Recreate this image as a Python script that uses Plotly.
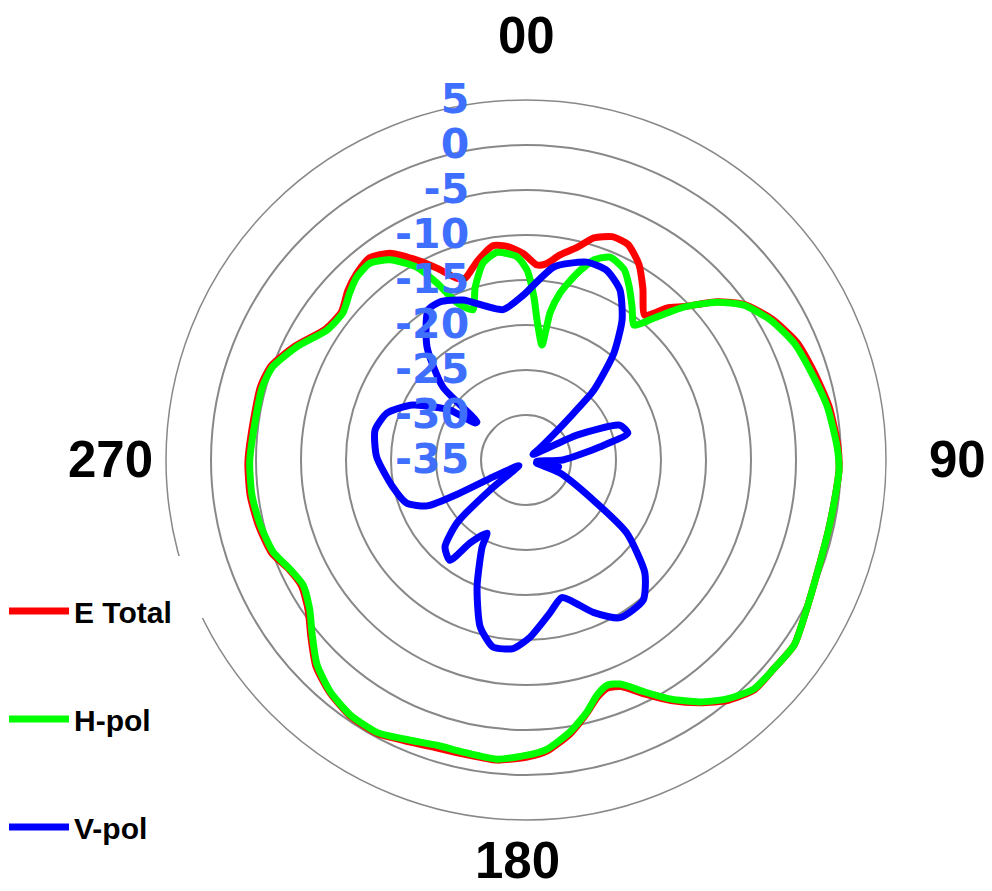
import plotly.graph_objects as go

# ---------------- data (dB vs azimuth, degrees clockwise from top) ----------------
theta_e = [3.2, 5.8, 9.4, 13.5, 17.0, 21.1, 25.3, 30.0, 34.2, 39.4, 42.8, 45.9, 50.4, 54.6,
           60.2, 66.4, 72.4, 80.0, 87.6, 91.8, 96.5, 102.8, 109.1, 117.9, 124.6, 130.1, 135.1,
           139.9, 144.3, 148.9, 153.0, 157.2, 160.2, 163.2, 166.4, 170.8, 175.8, 179.8, 185.5,
           192.2, 197.3, 202.5, 208.7, 214.6, 220.2, 225.6, 230.7, 235.4, 240.7, 245.2, 250.0,
           256.3, 262.7, 269.6, 278.4, 285.5, 290.2, 296.3, 303.2, 308.8, 313.5, 317.9, 322.3,
           326.7, 331.4, 335.1, 339.2, 341.5, 346.1, 351.2, 355.2, 359.4, 363.2]
r_e = [-13.3, -13.1, -11.9, -10.7, -9.2, -8.4, -8.5, -9.9, -11.9, -14.2, -12.0, -10.5, -7.4, -5.2,
       -3.5, -2.2, -1.6, -0.8, -0.3, -0.2, -0.4, -0.5, -0.4, 0.3, 1.2, 1.0, 1.0,
       -0.1, -1.8, -3.8, -5.8, -7.7, -8.1, -7.5, -6.1, -4.2, -2.6, -2.0, -1.5,
       -1.6, -1.5, -1.1, -0.4, -0.5, -1.2, -2.3, -4.1, -5.6, -6.4, -6.0, -4.9,
       -4.4, -4.1, -4.1, -4.4, -4.4, -4.8, -6.4, -8.4, -8.7, -7.7, -7.0, -6.6,
       -7.5, -9.7, -11.5, -13.4, -13.7, -12.3, -10.9, -11.2, -12.1, -13.3]

theta_h = [0.3, 2.8, 4.5, 7.9, 9.3, 11.5, 15.3, 18.8, 22.5, 27.3, 30.8, 34.7, 38.7, 42.0, 45.9,
           50.4, 54.6, 60.2, 66.4, 72.4, 80.0, 87.6, 91.8, 96.5, 102.8, 109.1, 117.9, 124.6,
           130.1, 135.1, 139.9, 144.3, 148.9, 153.0, 157.2, 160.2, 163.2, 166.4, 170.8, 175.8,
           179.8, 185.5, 192.2, 197.3, 202.5, 208.7, 214.6, 220.2, 225.6, 230.7, 235.4, 240.7,
           245.2, 250.0, 256.3, 262.7, 269.6, 278.4, 285.5, 290.2, 296.3, 303.2, 308.8, 313.5,
           317.3, 321.6, 325.8, 330.5, 333.3, 336.3, 340.5, 343.6, 347.7, 352.1, 357.5, 360.3]
r_h = [-13.9, -16.9, -19.4, -22.1, -18.4, -16.1, -13.5, -11.5, -10.6, -11.2, -12.6, -14.3, -15.8,
       -13.8, -10.6, -7.5, -5.3, -3.7, -2.5, -1.9, -1.0, -0.4, -0.2, -0.4, -0.5, -0.4, 0.3, 1.2,
       1.0, 0.9, -0.3, -1.9, -4.0, -6.1, -8.0, -8.4, -7.7, -6.2, -4.4, -2.8,
       -2.2, -1.6, -1.8, -1.8, -1.3, -0.5, -0.6, -1.3, -2.5, -4.3, -5.8, -6.6,
       -6.1, -5.1, -4.6, -4.3, -4.3, -4.6, -4.6, -5.0, -6.6, -8.6, -8.9, -8.0,
       -7.3, -7.1, -8.1, -10.4, -13.0, -15.9, -17.3, -15.0, -12.6, -11.7, -12.4, -13.9]

theta_v = [8.3, 17.1, 23.1, 28.9, 34.4, 39.4, 44.2, 45.7, 49.4, 51.5, 63.9, 69.6, 75.2, 80.0,
           90.0, 97.0, 101.6, 106.0, 110.9, 120.8, 125.9, 133.5, 140.1, 149.2, 156.2, 165.4,
           171.1, 178.7, 183.9, 190.0, 195.4, 201.1, 206.8, 208.1, 214.0, 217.2, 223.0, 227.6,
           230.2, 232.0, 242.7, 243.4, 245.1, 250.1, 258.5, 271.2, 281.2, 288.7, 295.9, 303.3,
           305.9, 307.8, 311.3, 318.8, 326.8, 331.4, 338.5, 351.3, 359.0, 368.3]
r_v = [-13.3, -12.0, -12.1, -13.4, -16.1, -19.6, -24.2, -28.2, -33.0, -34.0, -28.7, -23.9, -23.3,
       -26.7, -30.9, -33.8, -31.3, -33.8, -31.0, -26.3, -21.2, -16.8, -14.7, -14.6, -16.5, -19.2,
       -17.8, -15.3, -14.0, -13.9, -15.8, -19.9, -24.2, -25.8, -23.9, -21.0, -21.8, -24.6,
       -29.8, -34.0, -30.9, -26.8, -22.9, -20.9, -19.9, -18.4, -17.9, -18.7, -21.0, -24.9,
       -28.0, -28.1, -22.7, -18.3, -15.1, -15.0, -15.9, -18.1, -16.7, -13.3]

radial_ticks = [-35, -30, -25, -20, -15, -10, -5, 0, 5]
radial_ticktext = ["-35", "-30", "-25", "-20", "-15", "-10", "-5", "0", "5"]
angular_labels = ["00", "90", "180", "270"]

# ---------------- layout geometry (page pixels) ----------------
W, H = 992, 891
CX, CY, R = 526, 460, 360
angular_label_px = [(526, 35), (957, 459), (517, 860), (110, 459)]

fig = go.Figure()
fig.add_trace(go.Scatterpolar(theta=theta_e, r=r_e, mode="lines", name="E Total",
                              legendgroup="e",
                              line=dict(color="#ff0000", width=7, shape="spline", smoothing=0.6)))
fig.add_trace(go.Scatterpolar(theta=theta_h, r=r_h, mode="lines", name="H-pol",
                              legendgroup="h",
                              line=dict(color="#00ff00", width=7, shape="spline", smoothing=0.6)))
fig.add_trace(go.Scatterpolar(theta=theta_v, r=r_v, mode="lines", name="V-pol",
                              legendgroup="v",
                              line=dict(color="#0000ff", width=7, shape="spline", smoothing=0.6)))

annotations = []
for txt, (px, py) in zip(angular_labels, angular_label_px):
    annotations.append(dict(text=txt, x=px / W, y=1 - py / H, xref="paper", yref="paper",
                            showarrow=False, xanchor="center", yanchor="middle",
                            font=dict(family="Liberation Sans", size=51, color="black",
                                      weight="bold")))

fig.update_layout(
    width=W, height=H,
    margin=dict(l=0, r=0, t=0, b=0),
    paper_bgcolor="white",
    polar=dict(
        domain=dict(x=[(CX - R) / W, (CX + R) / W], y=[1 - (CY + R) / H, 1 - (CY - R) / H]),
        bgcolor="white",
        radialaxis=dict(range=[-35, 5], tickvals=radial_ticks, ticktext=radial_ticktext,
                        angle=90, side="counterclockwise", tickangle=90, ticks="outside",
                        ticklen=42, tickcolor="rgba(0,0,0,0)", showline=False,
                        gridcolor="#888888", gridwidth=1.5,
                        tickfont=dict(family="DejaVu Sans", size=41, color="#3f6fff",
                                      weight="bold")),
        angularaxis=dict(rotation=90, direction="clockwise", showgrid=False,
                         showticklabels=False, ticks="", linecolor="#888888", linewidth=1.5),
    ),
    legend=dict(x=4 / W, xanchor="left", y=1 - 585 / H, yanchor="top",
                font=dict(family="Liberation Sans", size=30, color="black", weight="bold"),
                tracegroupgap=66, itemwidth=60, bgcolor="rgba(0,0,0,0)"),
    annotations=annotations,
    shapes=[dict(type="rect", xref="paper", yref="paper", x0=172 / W, x1=208 / W,
                 y0=1 - 618 / H, y1=1 - 556 / H, fillcolor="white",
                 line=dict(width=0), layer="above")],
)

fig.write_html(
    "out.html",
    config={"displayModeBar": False},
    post_script="document.documentElement.style.margin='0';document.body.style.margin='0';"
                "document.documentElement.style.overflow='hidden';document.body.style.overflow='hidden';",
)
